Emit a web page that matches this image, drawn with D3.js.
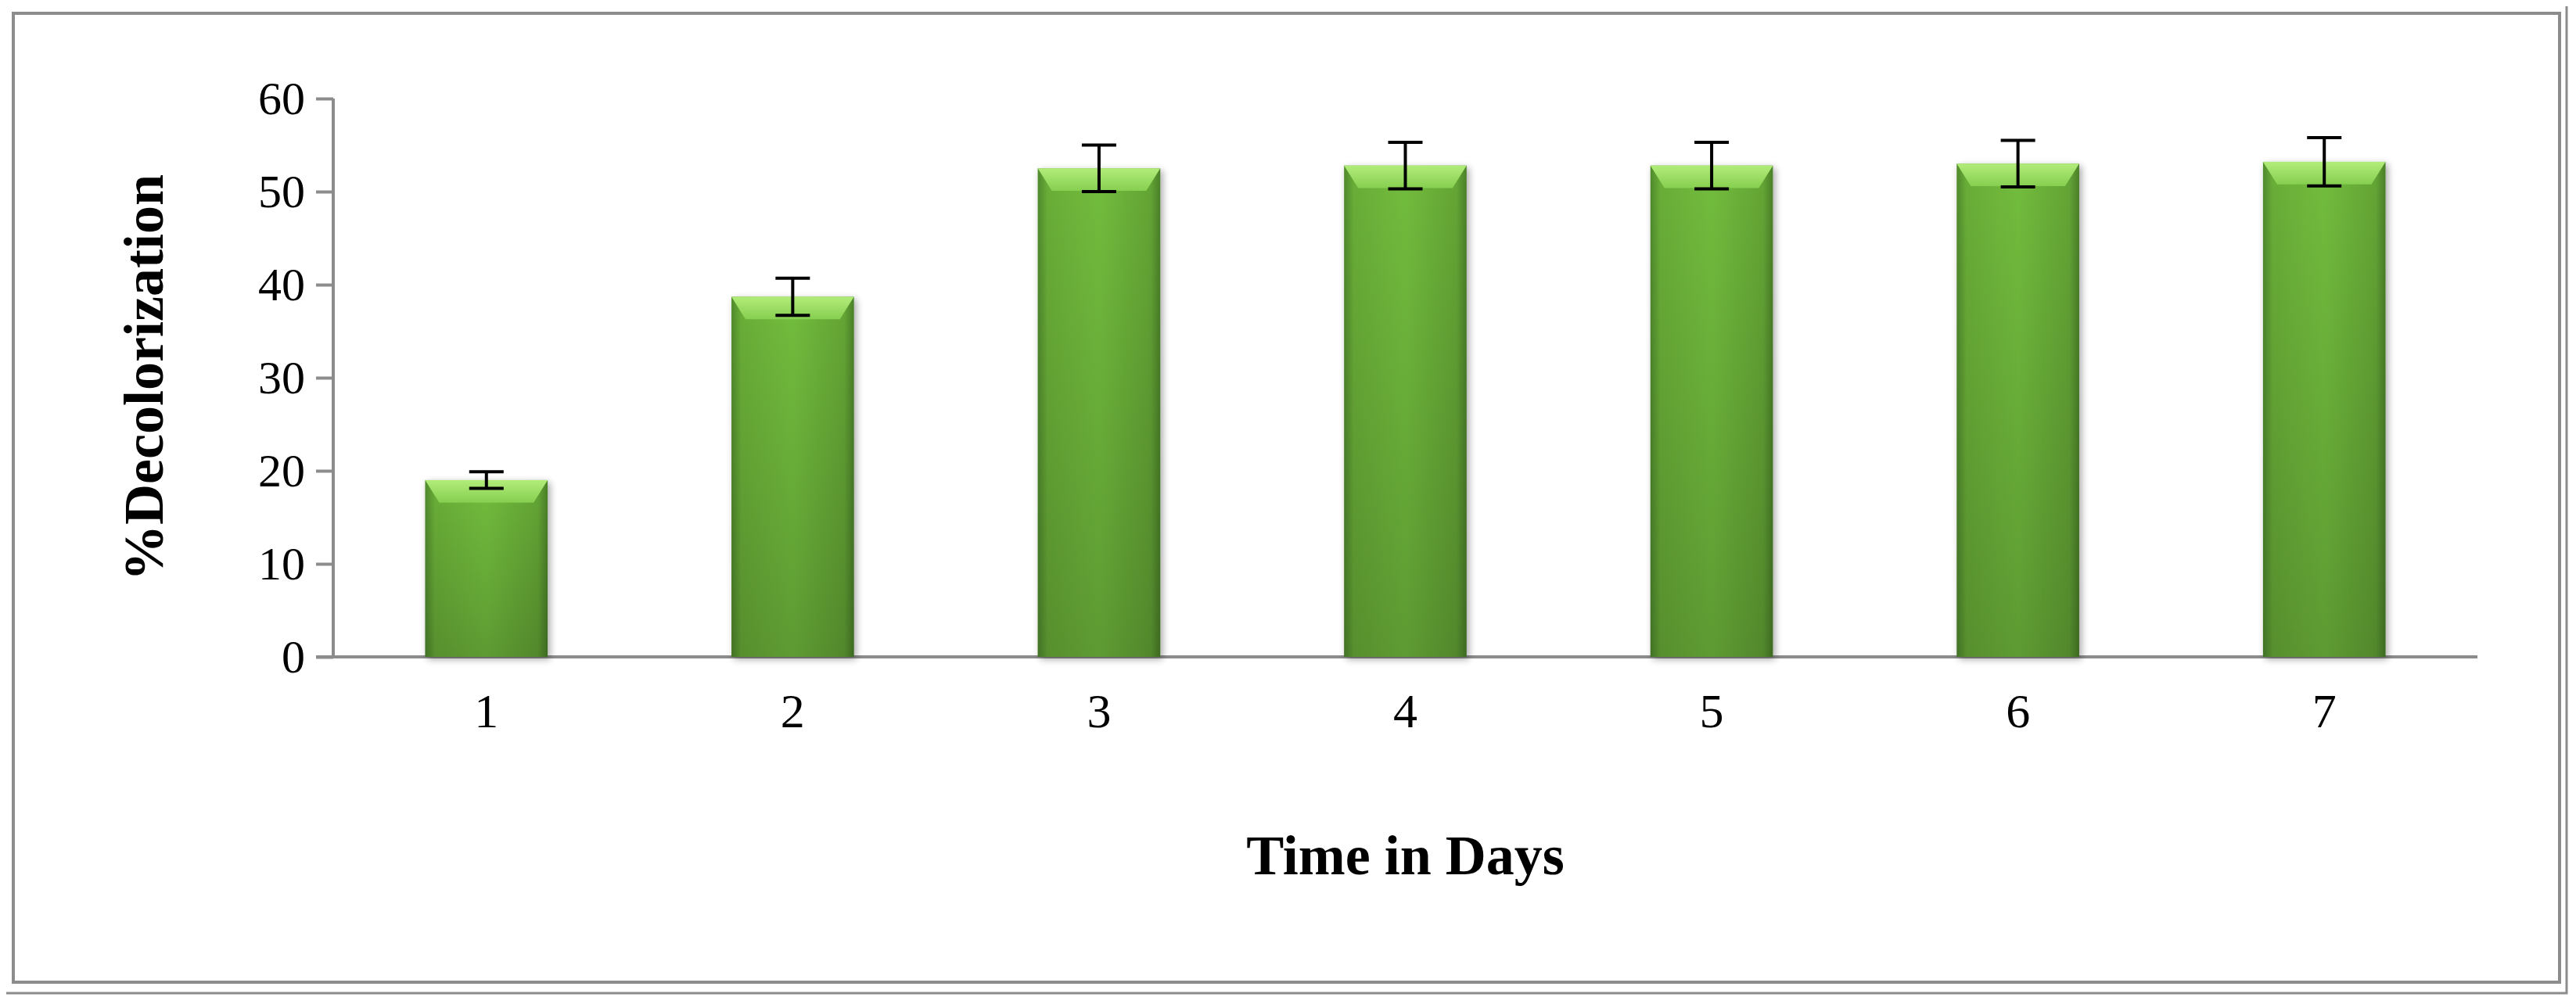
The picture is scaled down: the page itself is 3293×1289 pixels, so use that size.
<!DOCTYPE html>
<html>
<head>
<meta charset="utf-8">
<script src="https://cdn.jsdelivr.net/npm/d3@7"></script>
<style>
  body { margin: 0; background: #fff; }
  text { font-family: "Liberation Serif", "DejaVu Serif", serif; }
</style>
</head>
<body>
<svg id="chart" width="3293" height="1289"></svg>
<script>
const days = ["1", "2", "3", "4", "5", "6", "7"];
const decolorization = [19.0, 38.7, 52.5, 52.8, 52.8, 53.0, 53.2];
const errors = [0.9, 2.0, 2.5, 2.5, 2.5, 2.5, 2.6];
const yTicks = [0, 10, 20, 30, 40, 50, 60];

const width = 3293, height = 1289;
const margin = { left: 426, top: 126, right: 126, bottom: 449 };
const svg = d3.select("#chart");

// double frame
svg.append("rect").attr("x", 17).attr("y", 17).attr("width", 3255).attr("height", 1239)
    .attr("fill", "none").attr("stroke", "#8c8c8c").attr("stroke-width", 4);
svg.append("path").attr("d", "M 8 1270 L 3281 1270 L 3281 8")
    .attr("fill", "none").attr("stroke", "#8c8c8c").attr("stroke-width", 3);

const defs = svg.append("defs");
const grad = defs.append("linearGradient").attr("id", "barGrad")
    .attr("x1", "0%").attr("x2", "100%").attr("y1", "0%").attr("y2", "0%");
grad.append("stop").attr("offset", "0%").attr("stop-color", "#4f8a2c");
grad.append("stop").attr("offset", "8%").attr("stop-color", "#6aae38");
grad.append("stop").attr("offset", "50%").attr("stop-color", "#72bd3d");
grad.append("stop").attr("offset", "92%").attr("stop-color", "#64a535");
grad.append("stop").attr("offset", "100%").attr("stop-color", "#4a8028");
const vgrad = defs.append("linearGradient").attr("id", "shade")
    .attr("x1", "0%").attr("x2", "0%").attr("y1", "0%").attr("y2", "100%");
vgrad.append("stop").attr("offset", "0%").attr("stop-color", "#000").attr("stop-opacity", 0);
vgrad.append("stop").attr("offset", "100%").attr("stop-color", "#000").attr("stop-opacity", 0.18);
const tgrad = defs.append("linearGradient").attr("id", "topGrad")
    .attr("x1", "0%").attr("x2", "0%").attr("y1", "0%").attr("y2", "100%");
tgrad.append("stop").attr("offset", "0%").attr("stop-color", "#b2ec7a");
tgrad.append("stop").attr("offset", "100%").attr("stop-color", "#86cf50");
const shadow = defs.append("filter").attr("id", "shadow").attr("x", "-20%").attr("y", "-10%").attr("width", "140%").attr("height", "120%");
shadow.append("feGaussianBlur").attr("in", "SourceAlpha").attr("stdDeviation", 5);
shadow.append("feOffset").attr("dx", 3).attr("dy", 3).attr("result", "b");
shadow.append("feComponentTransfer").append("feFuncA").attr("type", "linear").attr("slope", 0.35);
const merge = shadow.append("feMerge");
merge.append("feMergeNode");
merge.append("feMergeNode").attr("in", "SourceGraphic");

const x = d3.scaleBand().domain(days)
    .range([margin.left, width - margin.right]).paddingInner(0.6).paddingOuter(0.3);
const y = d3.scaleLinear().domain([0, 60]).range([height - margin.bottom, margin.top]);

// y axis
const yAxis = svg.append("g").attr("transform", `translate(${margin.left},0)`)
    .call(d3.axisLeft(y).tickValues(yTicks).tickSize(22).tickPadding(14));
yAxis.select(".domain").attr("stroke", "#8c8c8c").attr("stroke-width", 4).attr("d", `M0,${y(60)}V${y(0)}`);
yAxis.selectAll(".tick line").attr("stroke", "#8c8c8c").attr("stroke-width", 4);
yAxis.selectAll(".tick text").attr("font-size", 60).attr("fill", "#000")
    .attr("font-family", "Liberation Serif, serif");

// x axis
const xAxis = svg.append("g").attr("transform", `translate(0,${y(0)})`)
    .call(d3.axisBottom(x).tickSize(0).tickPadding(46));
xAxis.select(".domain").attr("stroke", "#8c8c8c").attr("stroke-width", 4)
    .attr("d", `M${margin.left - 22},0H${width - margin.right}`);
xAxis.selectAll(".tick text").attr("font-size", 62).attr("fill", "#000")
    .attr("font-family", "Liberation Serif, serif");

// bars
const bw = x.bandwidth();
const bars = svg.append("g").selectAll("g").data(days).join("g");
bars.append("rect")
    .attr("x", d => x(d)).attr("y", (d, i) => y(decolorization[i]))
    .attr("width", bw).attr("height", (d, i) => y(0) - y(decolorization[i]))
    .attr("fill", "url(#barGrad)").attr("filter", "url(#shadow)");
bars.append("rect")
    .attr("x", d => x(d)).attr("y", (d, i) => y(decolorization[i]))
    .attr("width", bw).attr("height", (d, i) => y(0) - y(decolorization[i]))
    .attr("fill", "url(#shade)");
const bev = 18;
bars.append("path")
    .attr("d", (d, i) => {
        const x0 = x(d), x1 = x(d) + bw, t = y(decolorization[i]);
        return `M${x0},${t}L${x1},${t}L${x1 - bev},${t + bev * 1.6}L${x0 + bev},${t + bev * 1.6}Z`;
    })
    .attr("fill", "url(#topGrad)");

// error bars
const cap = 22;
const eb = svg.append("g").attr("stroke", "#000").attr("stroke-width", 4).attr("fill", "none");
days.forEach((d, i) => {
    const cx = x(d) + bw / 2;
    const hi = y(decolorization[i] + errors[i]), lo = y(decolorization[i] - errors[i]);
    eb.append("path").attr("d", `M${cx},${hi}V${lo}M${cx - cap},${hi}H${cx + cap}M${cx - cap},${lo}H${cx + cap}`);
});

// axis titles
svg.append("text").attr("x", (margin.left + width - margin.right) / 2).attr("y", 1118)
    .attr("text-anchor", "middle").attr("font-size", 72).attr("font-weight", "bold")
    .text("Time in Days");
svg.append("text").attr("transform", `translate(208,${y(30)}) rotate(-90)`)
    .attr("text-anchor", "middle").attr("font-size", 72).attr("font-weight", "bold")
    .text("%Decolorization");
</script>
</body>
</html>
